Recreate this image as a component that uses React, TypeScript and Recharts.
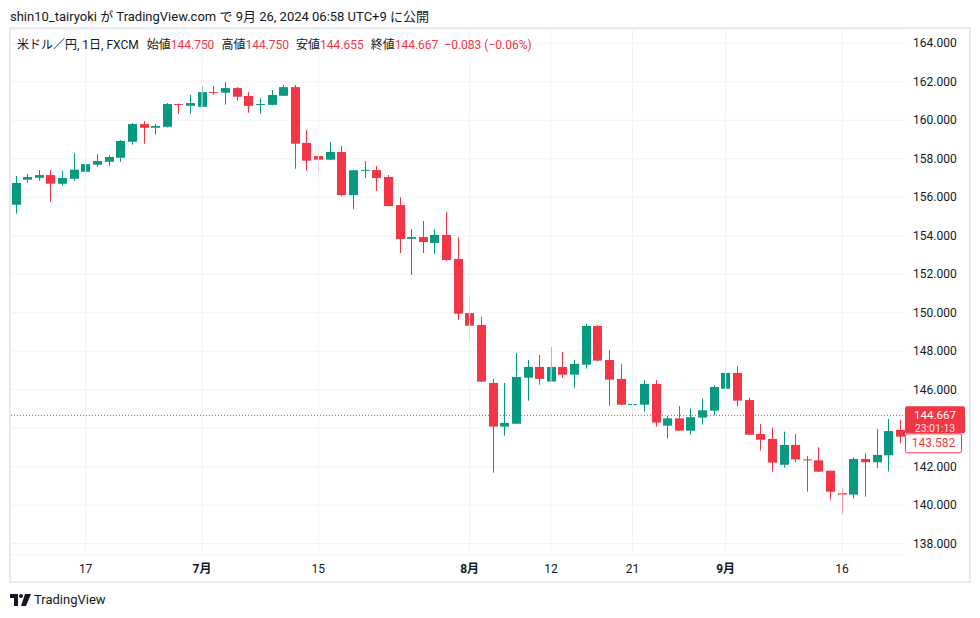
import React from "react";
import {
    Bar,
    CartesianGrid,
    ComposedChart,
    ReferenceLine,
    XAxis,
    YAxis,
} from "recharts";

// USD/JPY daily, FXCM
const dates = [
    "2024-06-07", "2024-06-10", "2024-06-11", "2024-06-12", "2024-06-13", "2024-06-14",
    "2024-06-17", "2024-06-18", "2024-06-19", "2024-06-20", "2024-06-21",
    "2024-06-24", "2024-06-25", "2024-06-26", "2024-06-27", "2024-06-28",
    "2024-07-01", "2024-07-02", "2024-07-03", "2024-07-04", "2024-07-05",
    "2024-07-08", "2024-07-09", "2024-07-10", "2024-07-11", "2024-07-12",
    "2024-07-15", "2024-07-16", "2024-07-17", "2024-07-18", "2024-07-19",
    "2024-07-22", "2024-07-23", "2024-07-24", "2024-07-25", "2024-07-26",
    "2024-07-29", "2024-07-30", "2024-07-31", "2024-08-01", "2024-08-02",
    "2024-08-05", "2024-08-06", "2024-08-07", "2024-08-08", "2024-08-09",
    "2024-08-12", "2024-08-13", "2024-08-14", "2024-08-15", "2024-08-16",
    "2024-08-19", "2024-08-20", "2024-08-21", "2024-08-22", "2024-08-23",
    "2024-08-26", "2024-08-27", "2024-08-28", "2024-08-29", "2024-08-30",
    "2024-09-02", "2024-09-03", "2024-09-04", "2024-09-05", "2024-09-06",
    "2024-09-09", "2024-09-10", "2024-09-11", "2024-09-12", "2024-09-13",
    "2024-09-16", "2024-09-17", "2024-09-18", "2024-09-19", "2024-09-20",
    "2024-09-23",
];

const opens = [
    155.61, 156.91, 157.01, 157.15, 156.70, 156.96,
    157.32, 157.69, 157.84, 158.05, 158.88,
    159.80, 159.61, 159.66, 160.84, 160.75,
    160.70, 161.46, 161.43, 161.67, 161.26,
    160.80, 160.80, 161.27, 161.72, 158.82,
    158.14, 157.95, 158.35, 156.11, 157.40,
    157.41, 157.05, 155.59, 153.84, 153.93,
    153.62, 154.04, 152.79, 149.98, 149.36,
    146.35, 144.08, 144.23, 146.62, 147.18,
    146.42, 147.18, 146.78, 147.30, 149.31,
    147.54, 146.56, 145.22, 145.22, 146.30,
    144.13, 144.51, 143.87, 144.55, 144.91,
    146.05, 146.87, 145.46, 143.70, 143.44,
    142.10, 143.13, 142.38, 142.33, 141.79,
    140.62, 140.55, 142.40, 142.23, 142.59,
    143.91,
];

const highs = [
    157.10, 157.21, 157.41, 157.41, 157.36, 158.30,
    157.98, 158.24, 158.19, 158.97, 159.85,
    159.96, 159.80, 160.89, 160.87, 161.31,
    161.78, 161.78, 161.98, 161.72, 161.46,
    161.15, 161.57, 161.83, 161.83, 159.49,
    158.45, 158.87, 158.66, 157.41, 157.88,
    157.62, 157.15, 156.00, 154.35, 154.76,
    154.35, 155.23, 153.93, 150.92, 149.79,
    146.56, 146.35, 147.91, 147.54, 147.80,
    148.22, 147.96, 147.54, 149.41, 149.36,
    148.06, 147.34, 146.92, 146.50, 146.50,
    144.63, 145.15, 145.03, 145.55, 146.24,
    147.18, 147.23, 145.58, 144.22, 144.03,
    143.82, 143.70, 142.56, 143.01, 141.80,
    140.88, 142.49, 142.70, 143.96, 144.48,
    144.43,
];

const lows = [
    155.14, 156.75, 156.86, 155.77, 156.60, 156.86,
    157.22, 157.58, 157.62, 157.84, 158.73,
    158.78, 159.25, 159.62, 160.34, 160.34,
    160.68, 161.32, 160.81, 161.01, 160.39,
    160.34, 160.78, 161.25, 157.48, 157.38,
    157.22, 157.93, 156.06, 155.39, 157.00,
    156.32, 155.52, 153.10, 151.96, 153.10,
    153.05, 152.69, 149.62, 148.55, 146.40,
    141.69, 143.61, 144.21, 145.43, 146.26,
    146.40, 146.61, 146.10, 147.09, 147.49,
    145.17, 145.20, 144.44, 144.86, 144.08,
    143.45, 143.85, 143.66, 144.18, 144.67,
    145.79, 145.12, 143.64, 142.83, 141.74,
    141.95, 142.23, 140.70, 141.72, 140.29,
    139.56, 140.34, 140.44, 141.92, 141.76,
    143.22,
];

const closes = [
    156.74, 157.05, 157.15, 156.70, 157.00, 157.43,
    157.72, 157.88, 158.09, 158.92, 159.80,
    159.61, 159.70, 160.84, 160.80, 160.89,
    161.46, 161.41, 161.67, 161.22, 160.75,
    160.84, 161.31, 161.72, 158.78, 157.90,
    157.95, 158.35, 156.11, 157.40, 157.42,
    157.00, 155.54, 153.83, 153.93, 153.67,
    154.04, 152.74, 149.95, 149.32, 146.42,
    144.08, 144.27, 146.66, 147.18, 146.56,
    147.18, 146.78, 147.34, 149.31, 147.51,
    146.52, 145.22, 145.25, 146.30, 144.29,
    144.51, 143.87, 144.57, 144.93, 146.14,
    146.87, 145.43, 143.66, 143.40, 142.21,
    143.13, 142.38, 142.33, 141.74, 140.70,
    140.55, 142.40, 142.23, 142.61, 143.85,
    143.56,
];

const priceTicks = [138, 140, 142, 144, 146, 148, 150, 152, 154, 156, 158, 160, 162, 164];
const dateTicks = [
    "2024-06-17", "2024-07-01", "2024-07-15", "2024-08-01",
    "2024-08-12", "2024-08-21", "2024-09-02", "2024-09-16",
];
const dateTickLabels = ["17", "7月", "15", "8月", "12", "21", "9月", "16"];

const lastPrice = 144.667;
const countdown = "23:01:13";
const prevPrice = "143.582";

const legendTitle = "米ドル／円, 1日, FXCM";
const legendNames = ["始値", "高値", "安値", "終値"];
const legendValues = ["144.750", "144.750", "144.655", "144.667"];
const legendChange = "−0.083 (−0.06%)";

const GREEN = "#089981";
const RED = "#f23645";
const TEXT = "#131722";
const GRID = "#f0f3fa";
const FONT = "Roboto, 'Noto Sans CJK JP', sans-serif";

const rows = dates.map((d, i) => ({
    d,
    o: opens[i],
    h: highs[i],
    l: lows[i],
    c: closes[i],
    range: [lows[i], highs[i]],
}));

function Candle(props: any) {
    const { x, y, width, height, payload } = props;
    const top = Math.min(y, y + height);
    const span = Math.abs(height);
    const ppu = span / (payload.h - payload.l || 1);
    const cx = Math.round(x + width / 2) + 0.5;
    const bodyTop = top + (payload.h - Math.max(payload.o, payload.c)) * ppu;
    const bodyBot = top + (payload.h - Math.min(payload.o, payload.c)) * ppu;
    const color = payload.c >= payload.o ? GREEN : RED;
    return (
        <g>
            <line x1={cx} x2={cx} y1={top} y2={top + span} stroke={color} strokeWidth={1} />
            <rect x={cx - 4.5} y={bodyTop} width={9} height={Math.max(1, bodyBot - bodyTop)} fill={color} />
        </g>
    );
}

function DateTick(props: any) {
    const { x, y, payload } = props;
    const idx = dateTicks.indexOf(payload.value);
    const label = idx >= 0 ? dateTickLabels[idx] : "";
    const bold = label.endsWith("月");
    return (
        <text x={x} y={y} dy={10} textAnchor="middle" fontSize={12} fill={TEXT}
            fontWeight={bold ? 700 : 400} fontFamily={FONT}>
            {label}
        </text>
    );
}

// price scale label, hidden where the last-price box covers it
function PriceTick(props: any) {
    const { x, y, payload } = props;
    const v = payload.value;
    if (v < lastPrice + 0.5 && v > lastPrice - 1.9) return null;
    return (
        <text x={x} y={y} dy={4} textAnchor="start" fontSize={12} fill={TEXT} fontFamily={FONT}>
            {v.toFixed(3)}
        </text>
    );
}

function PriceLabel(props: any) {
    const { viewBox } = props;
    const left = viewBox.x + viewBox.width - 1;
    const ly = viewBox.y;
    return (
        <g fontFamily={FONT}>
            <rect x={left} y={ly - 9} width={60} height={27} rx={2} fill={RED} />
            <text x={left + 30} y={ly + 3.5} textAnchor="middle" fontSize={11.5} fill="#ffffff">{lastPrice.toFixed(3)}</text>
            <text x={left + 30} y={ly + 16.5} textAnchor="middle" fontSize={10.5} fill="#fde2e4">{countdown}</text>
            <rect x={left + 0.5} y={ly + 18.5} width={56} height={19} rx={2} fill="#ffffff" stroke={RED} strokeWidth={1} />
            <text x={left + 28.5} y={ly + 32} textAnchor="middle" fontSize={12} fill={RED}>{prevPrice}</text>
        </g>
    );
}

function Logo() {
    return (
        <svg width={22} height={12} viewBox="0 0 22 12" style={{ position: "absolute", left: 10, top: 594 }}>
            <path d="M0 0 H8 V12 H4 V4 H0 Z" fill={TEXT} />
            <circle cx={11} cy={2} r={2} fill={TEXT} />
            <path d="M15 0 H21 L16 12 H11 Z" fill={TEXT} />
        </svg>
    );
}

export default function App() {
    return (
        <div style={{ position: "absolute", left: 0, top: 0, width: 980, height: 618, background: "#fff", fontFamily: FONT, color: TEXT }}>
            <div style={{ position: "absolute", left: 10, top: 6, fontSize: 13, whiteSpace: "nowrap" }}>
                shin10_tairyoki が TradingView.com で 9月 26, 2024 06:58 UTC+9 に公開
            </div>
            <div style={{ position: "absolute", left: 9, top: 27, width: 962, height: 556, boxSizing: "border-box", border: "2px solid #e9ebf1" }} />
            <div style={{ position: "absolute", left: 10, top: 29 }}>
                <ComposedChart width={960} height={553} data={rows} margin={{ top: 0, right: 0, bottom: 0, left: 0 }}>
                    <CartesianGrid stroke={GRID} vertical={false} />
                    {dateTicks.map((d) => (
                        <ReferenceLine key={d} x={d} stroke={GRID} strokeWidth={1} />
                    ))}
                    <XAxis dataKey="d" ticks={dateTicks} interval={0} axisLine={false} tickLine={false}
                        height={27} tick={<DateTick />} />
                    <YAxis orientation="right" width={64} domain={[137.41, 164.74]} ticks={priceTicks}
                        allowDataOverflow axisLine={false} tickLine={false} tickSize={6} tickMargin={1}
                        tick={<PriceTick />} />
                    <Bar dataKey="range" barSize={9} shape={<Candle />} isAnimationActive={false} />
                    <ReferenceLine y={lastPrice} stroke={RED} strokeDasharray="1 2" strokeWidth={1}
                        label={<PriceLabel />} />
                </ComposedChart>
            </div>
            <div style={{ position: "absolute", left: 17, top: 35, fontSize: 12, whiteSpace: "nowrap" }}>
                <span>{legendTitle}</span>
                {legendNames.map((n, i) => (
                    <span key={n} style={{ marginLeft: i === 0 ? 8 : 7 }}>
                        {n}<span style={{ color: RED }}>{legendValues[i]}</span>
                    </span>
                ))}
                <span style={{ color: RED, marginLeft: 6 }}>{legendChange}</span>
            </div>
            <Logo />
            <div style={{ position: "absolute", left: 34, top: 592, fontSize: 13, whiteSpace: "nowrap" }}>
                TradingView
            </div>
        </div>
    );
}
